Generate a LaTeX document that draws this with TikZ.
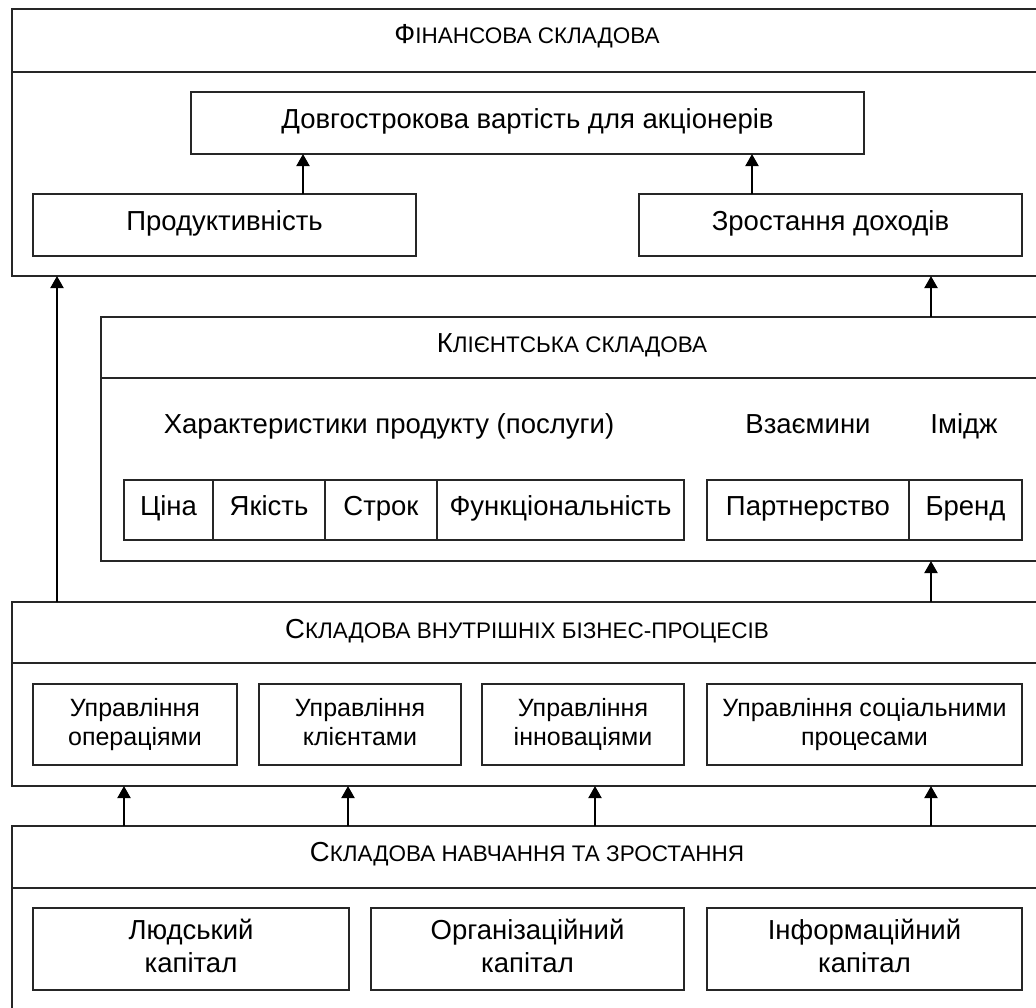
\documentclass[tikz,border=0pt]{standalone}
\usepackage{fontspec}
\setmainfont{Liberation Sans}
\usetikzlibrary{arrows.meta}
\newcommand\capT[2]{{\fontsize{27.5}{30}\selectfont #1}{\fontsize{22.5}{25}\selectfont #2}}
\newcommand\lstrut{\vphantom{Дф}}
\begin{document}
\begin{tikzpicture}[x=1pt,y=-1pt,
  box/.style={draw=black!85, line width=2.4pt, inner sep=0pt, outer sep=0pt, align=center,
    font=\fontsize{27.5}{33}\selectfont},
  one/.style={text height=20pt, text depth=10pt},
  frame/.style={draw=black!85, line width=2.6pt, inner sep=0pt, outer sep=0pt},
  sep/.style={draw=black!85, line width=2.6pt},
  lbl/.style={inner sep=0pt, anchor=base, font=\fontsize{27.5}{30}\selectfont},
  ttl/.style={inner sep=0pt, anchor=base},
  proc/.style={box, font=\fontsize{25}{28.5}\selectfont},
  arr/.style={line width=2pt, -{Triangle[length=12pt,width=13pt]}}]
\useasboundingbox (0,0) rectangle (1036,1007);
\clip (0,0) rectangle (1036,1007);

% Financial
\node[frame, minimum width=1048pt, minimum height=267pt] (fin) at (536,142.5) {};
\coordinate (finsep) at (0,72);
\draw[sep] (fin.west |- finsep) -- (fin.east |- finsep);
\node[ttl] (fint) at (527,43) {\capT{Ф}{ІНАНСОВА СКЛАДОВА}};
\node[box, one, minimum width=673pt, minimum height=62pt] (dovh) at (527.5,123) {Довгострокова вартість для акціонерів};
\node[box, one, minimum width=383pt, minimum height=62pt] (prod) at (224.5,225) {Продуктивність};
\node[box, one, minimum width=383pt, minimum height=62pt] (zrost) at (830.5,225) {Зростання доходів};
\draw[arr] (prod.north -| 303,0) -- (dovh.south -| 303,0);
\draw[arr] (zrost.north -| 752,0) -- (dovh.south -| 752,0);

% Client
\node[frame, minimum width=959pt, minimum height=244pt] (cli) at (580.5,439) {};
\coordinate (clisep) at (0,378);
\draw[sep] (cli.west |- clisep) -- (cli.east |- clisep);
\node[ttl] (clit) at (572,352) {\capT{К}{ЛІЄНТСЬКА СКЛАДОВА}};
\node[lbl] (har) at (389,433) {Характеристики продукту (послуги)};
\node[lbl] (vz) at (808,433) {Взаємини};
\node[lbl] (im) at (964,433) {Імідж};
\node[box, one, minimum width=89pt, minimum height=60pt] (cina) at (168.5,510) {Ціна};
\node[box, one, minimum width=112pt, minimum height=60pt] (yak) at (269,510) {Якість};
\node[box, one, minimum width=112pt, minimum height=60pt] (strok) at (381,510) {Строк};
\node[box, one, minimum width=247pt, minimum height=60pt] (func) at (560.5,510) {Функціональність};
\node[box, one, minimum width=202pt, minimum height=60pt] (part) at (808,510) {Партнерство};
\node[box, one, minimum width=113pt, minimum height=60pt] (brend) at (965.5,510) {Бренд};

% Internal processes
\node[frame, minimum width=1048pt, minimum height=184pt] (int) at (536,694) {};
\coordinate (intsep) at (0,663);
\draw[sep] (int.west |- intsep) -- (int.east |- intsep);
\node[ttl] (intt) at (527,638) {\capT{С}{КЛАДОВА ВНУТРІШНІХ БІЗНЕС-ПРОЦЕСІВ}};
\node[proc, minimum width=204pt, minimum height=81pt] (op) at (135,724.5) {\lstrut Управління\\\lstrut операціями};
\node[proc, minimum width=202pt, minimum height=81pt] (kl) at (360,724.5) {\lstrut Управління\\\lstrut клієнтами};
\node[proc, minimum width=202pt, minimum height=81pt] (inn) at (583,724.5) {\lstrut Управління\\\lstrut інноваціями};
\node[proc, minimum width=315pt, minimum height=81pt] (soc) at (864.5,724.5) {\lstrut Управління соціальними\\\lstrut процесами};

% Learning and growth
\node[frame, minimum width=1048pt, minimum height=204pt] (lrn) at (536,928) {};
\coordinate (lrnsep) at (0,888);
\draw[sep] (lrn.west |- lrnsep) -- (lrn.east |- lrnsep);
\node[ttl] (lrnt) at (527,861) {\capT{С}{КЛАДОВА НАВЧАННЯ ТА ЗРОСТАННЯ}};
\node[box, minimum width=316pt, minimum height=82pt] (hum) at (191,949) {\lstrut Людський\\\lstrut капітал};
\node[box, minimum width=313pt, minimum height=82pt] (org) at (527.5,949) {\lstrut Організаційний\\\lstrut капітал};
\node[box, minimum width=315pt, minimum height=82pt] (inf) at (864.5,949) {\lstrut Інформаційний\\\lstrut капітал};

% Connectors between layers
\draw[arr] (int.north -| 57,0) -- (fin.south -| 57,0);
\draw[arr] (cli.north -| 931,0) -- (fin.south -| 931,0);
\draw[arr] (int.north -| 931,0) -- (cli.south -| 931,0);
\foreach \xx in {124,348,595,931}
  \draw[arr] (lrn.north -| \xx,0) -- (int.south -| \xx,0);
\end{tikzpicture}
\end{document}
